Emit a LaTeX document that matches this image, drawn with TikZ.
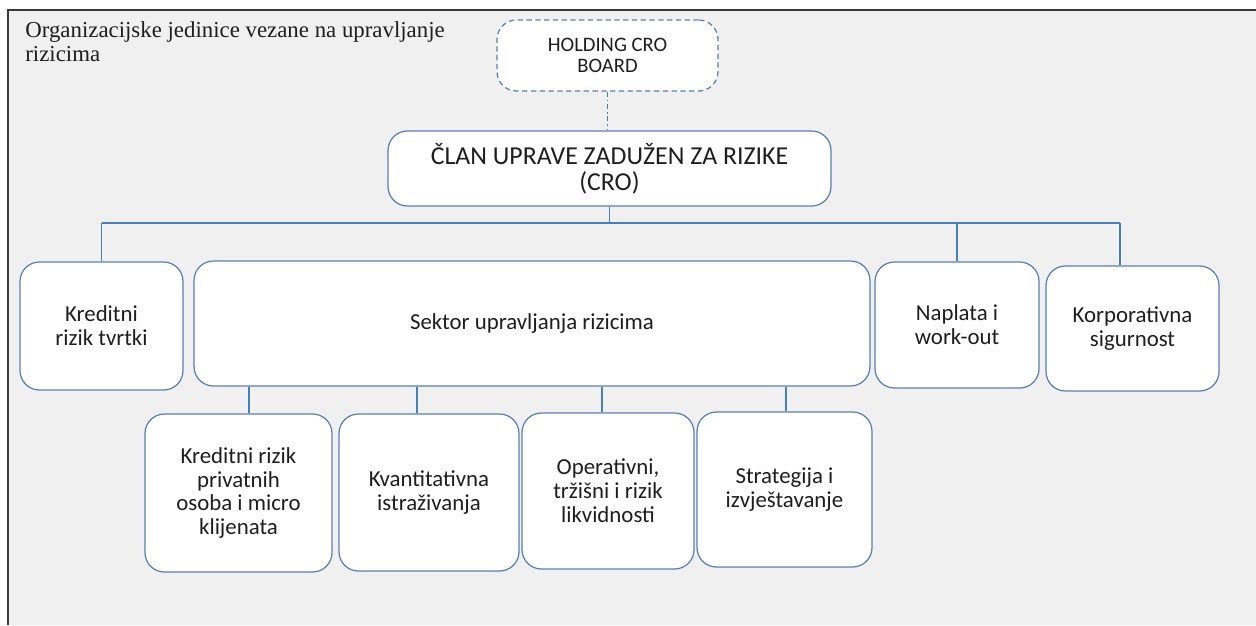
\documentclass[tikz,border=0pt]{standalone}
\usepackage{fontspec}
\setmainfont{Liberation Serif}
\newfontfamily\carlito{Carlito}
\definecolor{bgray}{HTML}{F0F0F0}
\definecolor{boxblue}{HTML}{5B7FB5}
\definecolor{linkblue}{HTML}{4A7EBB}
\definecolor{framec}{HTML}{3A3A3A}
\definecolor{txt}{HTML}{1E1E1E}
\tikzset{
  unitbox/.style={draw=boxblue, fill=white, rounded corners=11pt, line width=0.7pt,
    inner sep=0pt, align=center, text=txt, font=\carlito\fontsize{13}{13.6}\selectfont},
  link/.style={draw=linkblue, line width=0.9pt},
}
\begin{document}
\begin{tikzpicture}[x=0.02cm, y=-0.02cm]
\useasboundingbox (0,0) rectangle (1256,625);
\fill[white] (0,0) rectangle (1256,625);
\fill[bgray] (8,10) rectangle (1256,625);
\draw[framec, line width=1.1pt] (8,625) -- (8,10) -- (1256,10);

\node[anchor=north west, inner sep=0pt, align=left, text=txt,
  font=\fontsize{13}{11}\selectfont] (title) at (25,21)
  {Organizacijske jedinice vezane na upravljanje\\[1.5pt]rizicima};

\node[unitbox, dashed, dash pattern=on 3pt off 2pt, minimum width=4.42cm, minimum height=1.42cm,
  font=\carlito\fontsize{11.7}{12}\selectfont] (holding) at (607.5,55.5) {HOLDING CRO\\BOARD};
\node[unitbox, minimum width=8.86cm, minimum height=1.5cm,
  font=\carlito\fontsize{14.7}{14.8}\selectfont] (cro) at (609.5,168.5) {ČLAN UPRAVE ZADUŽEN ZA RIZIKE\\(CRO)};

\node[unitbox, minimum width=3.26cm, minimum height=2.56cm] (kt) at (101.5,326) {Kreditni\\rizik tvrtki};
\node[unitbox, minimum width=13.52cm, minimum height=2.5cm] (sektor) at (532,323.5) {Sektor upravljanja rizicima};
\node[unitbox, minimum width=3.28cm, minimum height=2.52cm] (naplata) at (957,325) {Naplata i\\work-out};
\node[unitbox, minimum width=3.46cm, minimum height=2.5cm] (korp) at (1132.5,328.5) {Korporativna\\sigurnost};

\node[unitbox, minimum width=3.74cm, minimum height=3.16cm] (c1) at (238.5,493) {Kreditni rizik\\privatnih\\osoba i micro\\klijenata};
\node[unitbox, minimum width=3.6cm, minimum height=3.14cm] (c2) at (429,492.5) {Kvantitativna\\istraživanja};
\node[unitbox, minimum width=3.44cm, minimum height=3.12cm] (c3) at (608,491) {Operativni,\\tržišni i rizik\\likvidnosti};
\node[unitbox, minimum width=3.5cm, minimum height=3.1cm] (c4) at (784.5,489.5) {Strategija i\\izvještavanje};

% connectors
\draw[link, line width=0.8pt, dash pattern=on 3pt off 1.5pt on 1pt off 1.5pt]
  (holding.south) -- (holding.south |- cro.north);
\coordinate (busL) at (101,223);
\coordinate (busR) at (1120,223);
\draw[link] (cro.south) -- (cro.south |- busL);
\draw[link] (kt.north |- busL) -- (busR);
\draw[link] (kt.north |- busL) -- (kt.north);
\draw[link] (naplata.north |- busL) -- (naplata.north);
\draw[link] (busR) -- (busR |- korp.north);

\coordinate (k1) at (249,0);
\coordinate (k2) at (417,0);
\coordinate (k3) at (602,0);
\coordinate (k4) at (786,0);
\draw[link] (sektor.south -| k1) -- (c1.north -| k1);
\draw[link] (sektor.south -| k2) -- (c2.north -| k2);
\draw[link] (sektor.south -| k3) -- (c3.north -| k3);
\draw[link] (sektor.south -| k4) -- (c4.north -| k4);
\end{tikzpicture}
\end{document}
